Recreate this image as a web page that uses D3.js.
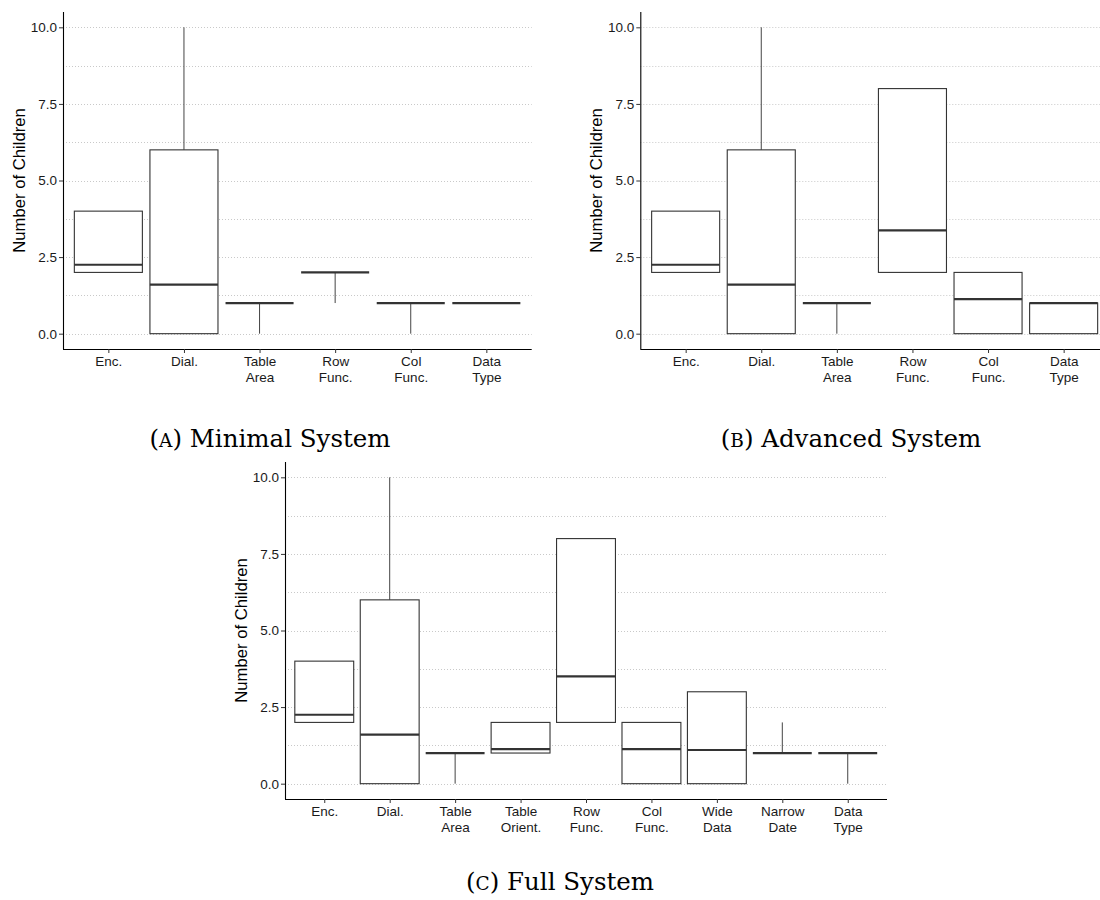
<!DOCTYPE html>
<html>
<head>
<meta charset="utf-8">
<script src="https://cdn.jsdelivr.net/npm/d3@7"></script>
<style>
  html, body { margin: 0; padding: 0; background: #fff; }
  svg { display: block; }
  .tick text { font-family: "Liberation Sans", Arial, sans-serif; }
</style>
</head>
<body>
<svg id="chart" width="1100" height="900"></svg>
<script>
// ---------- DATA ----------
const yTicks = [0, 2.5, 5, 7.5, 10];
const yMinor = [1.25, 3.75, 6.25, 8.75];
const yTitle = "Number of Children";

// Panel A: Minimal System
const catsA = ["Enc.", "Dial.", "Table\nArea", "Row\nFunc.", "Col\nFunc.", "Data\nType"];
const lowA  = [2, 0, 0, 1, 0, 1];
const q1A   = [2, 0, 1, 2, 1, 1];
const medA  = [2.25, 1.6, 1, 2, 1, 1];
const q3A   = [4, 6, 1, 2, 1, 1];
const highA = [4, 10, 1, 2, 1, 1];

// Panel B: Advanced System
const catsB = ["Enc.", "Dial.", "Table\nArea", "Row\nFunc.", "Col\nFunc.", "Data\nType"];
const lowB  = [2, 0, 0, 2, 0, 0];
const q1B   = [2, 0, 1, 2, 0, 0];
const medB  = [2.25, 1.6, 1, 3.375, 1.125, 1];
const q3B   = [4, 6, 1, 8, 2, 1];
const highB = [4, 10, 1, 8, 2, 1];

// Panel C: Full System
const catsC = ["Enc.", "Dial.", "Table\nArea", "Table\nOrient.", "Row\nFunc.", "Col\nFunc.", "Wide\nData", "Narrow\nDate", "Data\nType"];
const lowC  = [2, 0, 0, 1, 2, 0, 0, 1, 0];
const q1C   = [2, 0, 1, 1, 2, 0, 0, 1, 1];
const medC  = [2.25, 1.6, 1, 1.125, 3.5, 1.125, 1.1, 1, 1];
const q3C   = [4, 6, 1, 2, 8, 2, 3, 1, 1];
const highC = [4, 10, 1, 2, 8, 2, 3, 2, 1];

const captionLetters = ["A", "B", "C"];
const captionTexts = ["Minimal System", "Advanced System", "Full System"];

// ---------- DRAW ----------
const svg = d3.select("#chart");
const sans = "'Liberation Sans', Arial, Helvetica, sans-serif";

function panel(cfg) {
  const {cats, low, q1, med, q3, high, x0, x1, yTop, yBot, letter, text, capX, capY} = cfg;
  const g = svg.append("g");
  const y = d3.scaleLinear().domain([-0.5, 10.5]).range([yBot, yTop]);
  const x = d3.scalePoint().domain(cats).range([x0, x1]).padding(0.6);
  const bw = x.step() * 0.9;

  // grid
  g.append("g").selectAll("line").data(yTicks.concat(yMinor)).join("line")
    .attr("x1", x0).attr("x2", x1)
    .attr("y1", d => Math.round(y(d)) + 0.5).attr("y2", d => Math.round(y(d)) + 0.5)
    .attr("stroke", "#c9c9c9").attr("stroke-width", 1)
    .attr("stroke-dasharray", "1,2");

  const rows = cats.map((c, i) => ({c, lo: low[i], q1: q1[i], md: med[i], q3: q3[i], hi: high[i]}));
  const bx = g.append("g").selectAll("g").data(rows).join("g");
  // whiskers
  bx.filter(d => d.hi > d.q3).append("line")
    .attr("x1", d => x(d.c)).attr("x2", d => x(d.c))
    .attr("y1", d => y(d.q3)).attr("y2", d => y(d.hi))
    .attr("stroke", "#444").attr("stroke-width", 1);
  bx.filter(d => d.lo < d.q1).append("line")
    .attr("x1", d => x(d.c)).attr("x2", d => x(d.c))
    .attr("y1", d => y(d.q1)).attr("y2", d => y(d.lo))
    .attr("stroke", "#444").attr("stroke-width", 1);
  // box
  bx.append("rect")
    .attr("x", d => x(d.c) - bw / 2).attr("width", bw)
    .attr("y", d => y(d.q3)).attr("height", d => y(d.q1) - y(d.q3))
    .attr("fill", "#fff").attr("stroke", "#333").attr("stroke-width", 1.1);
  // median
  bx.append("line")
    .attr("x1", d => x(d.c) - bw / 2).attr("x2", d => x(d.c) + bw / 2)
    .attr("y1", d => y(d.md)).attr("y2", d => y(d.md))
    .attr("stroke", "#333").attr("stroke-width", 2.2);

  // axes
  const ya = g.append("g").attr("transform", `translate(${x0},0)`)
    .call(d3.axisLeft(y).tickValues(yTicks).tickFormat(d3.format(".1f")).tickSize(4).tickPadding(2));
  ya.select(".domain").attr("d", `M0.5,${yTop}V${yBot}`).attr("stroke", "#000").attr("stroke-width", 1.1);
  ya.selectAll(".tick line").attr("stroke", "#333");
  ya.selectAll(".tick text").attr("font-size", 13.5).attr("fill", "#1a1a1a").attr("font-family", sans);

  const xa = g.append("g").attr("transform", `translate(0,${yBot})`)
    .call(d3.axisBottom(x).tickSize(4).tickPadding(3));
  xa.select(".domain").attr("d", `M${x0},0.5H${x1}`).attr("stroke", "#000").attr("stroke-width", 1.1);
  xa.selectAll(".tick line").attr("stroke", "#333");
  xa.selectAll(".tick text").each(function(d) {
    const t = d3.select(this).text("").attr("font-size", 13.5).attr("fill", "#1a1a1a").attr("font-family", sans);
    d.split("\n").forEach((s, i) => {
      t.append("tspan").attr("x", 0).attr("dy", i === 0 ? "0.71em" : "1.18em").text(s);
    });
  });

  // y title
  g.append("text")
    .attr("transform", `translate(${x0 - 44},${(yTop + yBot) / 2}) rotate(-90)`)
    .attr("text-anchor", "middle").attr("dy", "0.35em")
    .attr("font-family", sans).attr("font-size", 16.7).attr("fill", "#000")
    .text(yTitle);

  // caption
  const cap = svg.append("text")
    .attr("x", capX).attr("y", capY).attr("text-anchor", "middle")
    .attr("font-family", "'DejaVu Serif', 'Liberation Serif', serif")
    .attr("font-size", 24.5).attr("fill", "#000");
  cap.append("tspan").text("(");
  cap.append("tspan").attr("font-size", 18.5).text(letter);
  cap.append("tspan").text(") " + text);
}

panel({cats: catsA, low: lowA, q1: q1A, med: medA, q3: q3A, high: highA,
  x0: 63, x1: 531.7, yTop: 12, yBot: 349,
  letter: captionLetters[0], text: captionTexts[0], capX: 270, capY: 447});
panel({cats: catsB, low: lowB, q1: q1B, med: medB, q3: q3B, high: highB,
  x0: 640.3, x1: 1109, yTop: 12, yBot: 349,
  letter: captionLetters[1], text: captionTexts[1], capX: 851, capY: 447});
panel({cats: catsC, low: lowC, q1: q1C, med: medC, q3: q3C, high: highC,
  x0: 285, x1: 887, yTop: 462, yBot: 799,
  letter: captionLetters[2], text: captionTexts[2], capX: 560, capY: 890});
</script>
</body>
</html>
